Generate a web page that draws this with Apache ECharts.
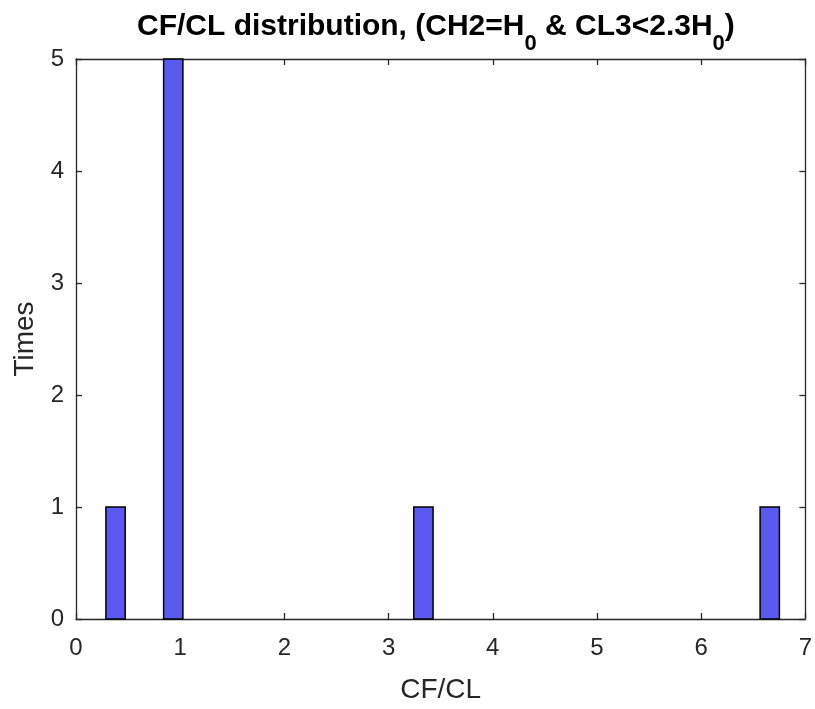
<!DOCTYPE html>
<html>
<head>
<meta charset="utf-8">
<script src="https://cdn.jsdelivr.net/npm/echarts@6/dist/echarts.min.js"></script>
<style>html,body{margin:0;padding:0;background:#fff}#c{width:815px;height:709px}</style>
</head>
<body>
<div id="c"></div>
<script>
// Histogram bins (left edge, right edge) and counts
var binStart = [0.287, 0.841, 3.242, 6.566];
var binEnd   = [0.472, 1.026, 3.427, 6.751];
var counts   = [1, 5, 1, 1];
var xTicks = [0, 1, 2, 3, 4, 5, 6, 7];
var yTicks = [0, 1, 2, 3, 4, 5];

var data = binStart.map(function (s, i) { return [s, binEnd[i], counts[i]]; });

var chart = echarts.init(document.getElementById('c'), null, {renderer: 'canvas'});
var font = 'Liberation Sans, Arial, Helvetica, sans-serif';
var txt = '#262626';
var axisCol = '#262626';

function axisBase(pos, showLabel, isX) {
  return {
    type: 'value', position: pos,
    min: isX ? xTicks[0] : yTicks[0],
    max: isX ? xTicks[xTicks.length - 1] : yTicks[yTicks.length - 1],
    interval: 1,
    axisLine: {show: true, onZero: false, lineStyle: {color: axisCol, width: 1.3}},
    axisTick: {show: true, inside: true, length: 6, lineStyle: {color: axisCol, width: 1.3}},
    axisLabel: {show: showLabel, color: txt, fontSize: 24, fontFamily: font, margin: isX ? 17 : 12},
    splitLine: {show: false}
  };
}

var xa0 = axisBase('bottom', true, true);
xa0.name = 'CF/CL'; xa0.nameLocation = 'middle'; xa0.nameGap = 57;
xa0.nameTextStyle = {color: txt, fontSize: 28, fontFamily: font};
var xa1 = axisBase('top', false, true);
var ya0 = axisBase('left', true, false);
ya0.name = 'Times'; ya0.nameLocation = 'middle'; ya0.nameGap = 37;
ya0.nameTextStyle = {color: txt, fontSize: 28, fontFamily: font};
var ya1 = axisBase('right', false, false);

chart.setOption({
  animation: false,
  backgroundColor: '#fff',
  title: {
    text: '{a|CF/CL distribution, (CH2=H}{s|0}{a| & CL3<2.3H}{s|0}{a|)}',
    left: 132, top: -6,
    textStyle: {
      rich: {
        a: {fontSize: 30, fontWeight: 'bold', fontFamily: font, color: '#000', lineHeight: 56, verticalAlign: 'middle'},
        s: {fontSize: 22, fontWeight: 'bold', fontFamily: font, color: '#000', lineHeight: 22, verticalAlign: 'bottom'}
      }
    }
  },
  grid: {left: 76, right: 8, top: 59, bottom: 88, containLabel: false},
  xAxis: [xa0, xa1],
  yAxis: [ya0, ya1],
  series: [{
    type: 'custom',
    xAxisIndex: 0, yAxisIndex: 0,
    data: data,
    encode: {x: [0, 1], y: 2},
    renderItem: function (params, api) {
      var p0 = api.coord([api.value(0), api.value(2)]);
      var p1 = api.coord([api.value(1), 0]);
      return {
        type: 'rect',
        shape: {x: p0[0], y: p0[1], width: p1[0] - p0[0], height: p1[1] - p0[1]},
        style: {fill: '#5a5af2', stroke: '#000', lineWidth: 1.5}
      };
    }
  }]
});
</script>
</body>
</html>
